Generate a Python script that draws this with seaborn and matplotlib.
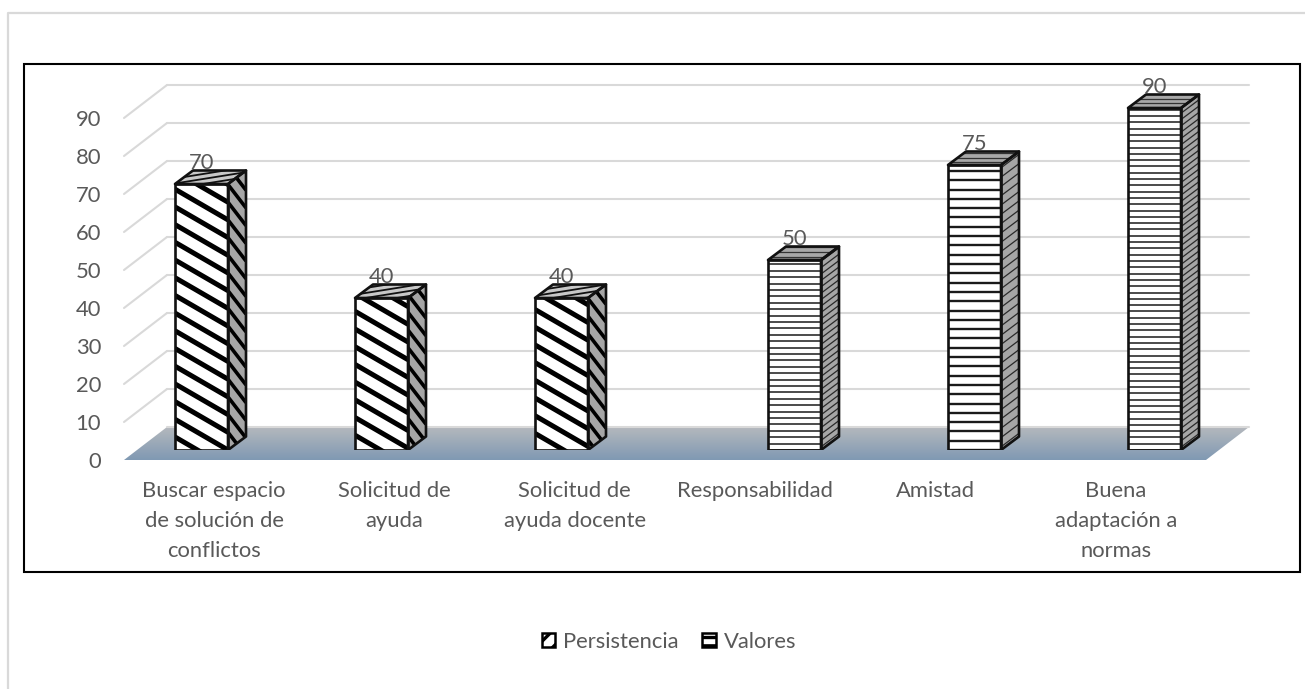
import matplotlib
matplotlib.use("Agg")
import matplotlib.pyplot as plt
import numpy as np
import pandas as pd
import seaborn as sns
from matplotlib.collections import LineCollection
from matplotlib.colors import LinearSegmentedColormap
from matplotlib.lines import Line2D
from matplotlib.patches import Patch, Polygon, Rectangle

categories = ["Buscar espacio\nde solución de\nconflictos", "Solicitud de\nayuda",
              "Solicitud de\nayuda docente", "Responsabilidad", "Amistad",
              "Buena\nadaptación a\nnormas"]
series = ["Persistencia", "Valores"]
persistencia = [70, 40, 40]
valores = [50, 75, 90]
y_ticks = [0, 10, 20, 30, 40, 50, 60, 70, 80, 90]

W, H = 1305, 689
PX_X = 180.0   # px per category
PX_Y = 3.8     # px per value unit
TEXT = "#595959"
GRID = "#d9d9d9"
FONT = 15.8

sns.set_theme(style="white")
plt.rcParams["font.family"] = ["Lato", "DejaVu Sans"]
plt.rcParams["font.size"] = FONT
plt.rcParams["hatch.linewidth"] = 2.4

df = pd.DataFrame({
    "categoria": categories,
    "serie": [series[0]] * 3 + [series[1]] * 3,
    "valor": persistencia + valores,
})


def px_axes(fig, left, right, top, bottom):
    ax = fig.add_axes([left / W, 1 - bottom / H, (right - left) / W, (bottom - top) / H])
    ax.patch.set_visible(False)
    return ax


def stripes(ax, clip, slope, gap, lw, color, z):
    # parallel lines in px units, clipped to a polygon given in data coords
    verts = clip.get_xy()
    xs = verts[:, 0] * PX_X
    ys = verts[:, 1] * PX_Y
    c = ys - slope * xs
    segs = []
    for k in np.arange(np.floor(c.min() / gap), np.ceil(c.max() / gap) + 1):
        x0, x1 = xs.min(), xs.max()
        y0, y1 = k * gap + slope * x0, k * gap + slope * x1
        segs.append([(x0 / PX_X, y0 / PX_Y), (x1 / PX_X, y1 / PX_Y)])
    lc = LineCollection(segs, colors=color, linewidths=lw, zorder=z)
    ax.add_collection(lc, autolim=False)
    lc.set_clip_path(clip)


fig = plt.figure(figsize=(W / 100, H / 100), dpi=100)

# outer chart area and black frame
fig.add_artist(Line2D([8 / W, 8 / W, 1], [0, 1 - 13 / H, 1 - 13 / H], color=GRID, lw=1.6))
fig.add_artist(Rectangle((24 / W, 1 - 572 / H), 1276 / W, 508 / H, transform=fig.transFigure,
                         facecolor="none", edgecolor="black", lw=1.5))

# walls, floor and axis text
wall = px_axes(fig, 124, 1249, 85, 460)
depth_x = 43 / (1082 / 6)
depth_y = 33 / PX_Y
wall.set_xlim(-0.5, 5.5 + depth_x)
wall.set_ylim(0, 90 + depth_y)
sns.despine(ax=wall, left=True, bottom=True)

floor_cmap = LinearSegmentedColormap.from_list("floor", ["#b4b8bd", "#8099b3"])
img = wall.imshow(np.linspace(0, 1, 64).reshape(-1, 1), cmap=floor_cmap, aspect="auto",
                  extent=(-0.5, 5.5 + depth_x, 0, depth_y), zorder=1)
floor = Polygon([(-0.5, 0), (5.5, 0), (5.5 + depth_x, depth_y), (-0.5 + depth_x, depth_y)],
                closed=True, facecolor="none", edgecolor="none", transform=wall.transData)
wall.add_patch(floor)
img.set_clip_path(floor)
wall.set_xlim(-0.5, 5.5 + depth_x)
wall.set_ylim(0, 90 + depth_y)

for v in y_ticks:
    if v > 0:
        wall.plot([-0.5, -0.5 + depth_x], [v, v + depth_y], color=GRID, lw=1.5, zorder=2, clip_on=False)
    wall.plot([-0.5 + depth_x, 5.5 + depth_x], [v + depth_y, v + depth_y], color=GRID, lw=1.5,
              zorder=2, clip_on=False)

wall.set_yticks(y_ticks)
wall.set_xticks(range(len(categories)))
wall.set_xticklabels(categories, color=TEXT, fontsize=FONT, linespacing=1.62, va="top")
wall.set_yticklabels([str(v) for v in y_ticks], color=TEXT, fontsize=FONT)
wall.tick_params(axis="y", length=0, pad=16.5)
wall.tick_params(axis="x", length=0, pad=15)

# bars
bars = px_axes(fig, 124, 1249, 60, 450)
sns.barplot(data=df, x="categoria", y="valor", hue="serie", order=categories, hue_order=series,
            palette={series[0]: "white", series[1]: "white"}, width=0.589, gap=0, dodge=True,
            errorbar=None, edgecolor="none", legend=False, ax=bars, zorder=3)
bars.set_xlim((124 - 228) / PX_X, (1249 - 228) / PX_X)
bars.set_ylim(0, 390 / PX_Y)
bars.axis("off")

bar_dx = 18 / PX_X
bar_dy = 13.5 / PX_Y
valores_gaps = [6.4, 9.3, 6.3]

for s, container in enumerate(bars.containers):
    for i, rect in enumerate(container):
        x0, w, h = rect.get_x(), rect.get_width(), rect.get_height()
        x1 = x0 + w
        side = Polygon([(x1, 0), (x1 + bar_dx, bar_dy), (x1 + bar_dx, h + bar_dy), (x1, h)],
                       closed=True, facecolor="#a6a6a6", edgecolor="none", zorder=3)
        top = Polygon([(x0, h), (x1, h), (x1 + bar_dx, h + bar_dy), (x0 + bar_dx, h + bar_dy)],
                      closed=True, facecolor="#c8c8c8" if s == 0 else "#a8a8a8", edgecolor="none", zorder=3)
        front = Polygon([(x0, 0), (x1, 0), (x1, h), (x0, h)], closed=True,
                        facecolor="white", edgecolor="none", zorder=3)
        for p in (side, top, front):
            bars.add_patch(p)
        if s == 0:
            stripes(bars, front, -0.58, 17.7, 3.6, "black", 4)
            stripes(bars, side, -1.3, 17.7, 2.6, "black", 4)
            stripes(bars, top, 0.16, 5.0, 1.3, "#111111", 4)
        else:
            gap = valores_gaps[i]
            lw = 1.7 if gap > 8 else 1.1
            stripes(bars, front, 0.0, gap, lw, "#1a1a1a", 4)
            stripes(bars, side, 0.75, gap, 0.9, "#2a2a2a", 4)
            stripes(bars, top, 0.0, 4.5, 0.9, "#333333", 4)
        for p in (side, top, front):
            bars.add_patch(Polygon(p.get_xy(), closed=True, facecolor="none", edgecolor="#111111",
                                   lw=1.9, joinstyle="round", zorder=5))
    vals = persistencia if s == 0 else valores
    bars.bar_label(container, labels=[str(v) for v in vals], padding=8, color=TEXT, fontsize=FONT, zorder=6)

handles = [Patch(facecolor="white", edgecolor="black", hatch="//", lw=1.8),
           Patch(facecolor="white", edgecolor="black", hatch="--", lw=1.8)]
leg = fig.legend(handles, series, loc="center", bbox_to_anchor=(669 / W, 1 - 642 / H), ncol=2,
                 frameon=False, handlelength=0.62, handleheight=0.6, handletextpad=0.38,
                 columnspacing=1.05, fontsize=FONT, labelcolor=TEXT)

fig.savefig("out.png", dpi=100)
